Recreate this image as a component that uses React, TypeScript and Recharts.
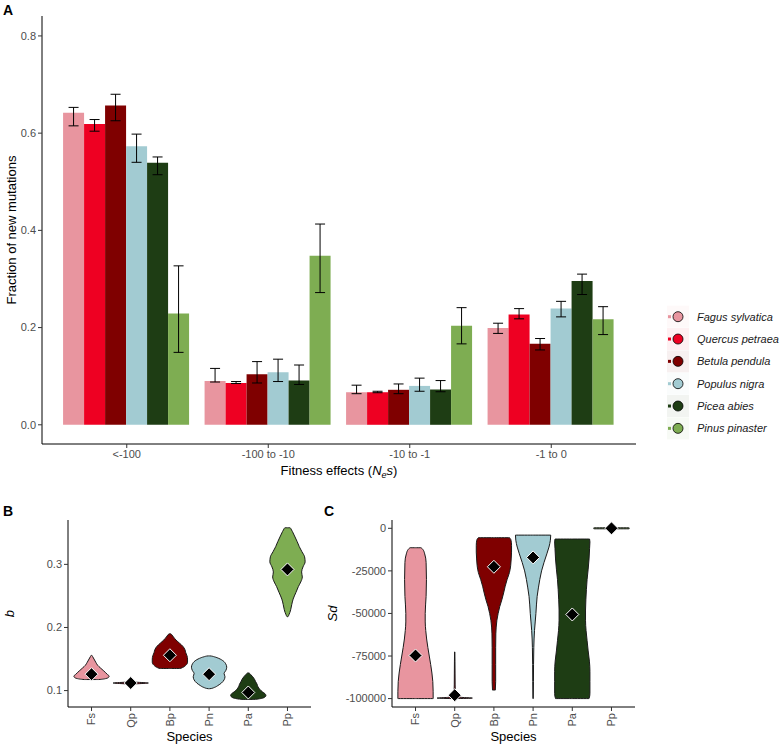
import React from "react";
import { BarChart, Bar, XAxis, YAxis, ErrorBar, ComposedChart, Area, Scatter, Label } from "recharts";

const SPECIES = ["Fagus sylvatica", "Quercus petraea", "Betula pendula", "Populus nigra", "Picea abies", "Pinus pinaster"];
const CODES = ["Fs", "Qp", "Bp", "Pn", "Pa", "Pp"];
const COLORS = ["#E8959F", "#EE0022", "#7F0000", "#A2CBD2", "#1E3D14", "#7EAD52"];
const CATEGORIES = ["<-100", "-100 to -10", "-10 to -1", "-1 to 0"];

// panel A: fraction of new mutations (mean, lower and upper error) per fitness class
const FS_MEAN = [0.642, 0.09, 0.067, 0.199];
const FS_LOW = [0.615, 0.088, 0.064, 0.188];
const FS_HIGH = [0.653, 0.116, 0.0815, 0.209];
const QP_MEAN = [0.619, 0.086, 0.067, 0.227];
const QP_LOW = [0.604, 0.085, 0.066, 0.218];
const QP_HIGH = [0.628, 0.089, 0.069, 0.239];
const BP_MEAN = [0.657, 0.104, 0.072, 0.1665];
const BP_LOW = [0.6255, 0.086, 0.064, 0.154];
const BP_HIGH = [0.68, 0.13, 0.084, 0.1775];
const PN_MEAN = [0.573, 0.108, 0.08, 0.239];
const PN_LOW = [0.54, 0.089, 0.069, 0.222];
const PN_HIGH = [0.598, 0.135, 0.096, 0.254];
const PA_MEAN = [0.539, 0.091, 0.0726, 0.296];
const PA_LOW = [0.5145, 0.083, 0.068, 0.268];
const PA_HIGH = [0.551, 0.123, 0.091, 0.31];
const PP_MEAN = [0.229, 0.348, 0.204, 0.217];
const PP_LOW = [0.149, 0.272, 0.1665, 0.1856];
const PP_HIGH = [0.327, 0.413, 0.241, 0.243];

// panel B: violin profiles of b, [value, relative width]
const FS_B = [[0.1175, 0.4], [0.119, 0.8], [0.121, 0.97], [0.123, 1], [0.1255, 0.9], [0.129, 0.78], [0.132, 0.66], [0.136, 0.5], [0.14, 0.35], [0.145, 0.24], [0.15, 0.14], [0.154, 0.06], [0.156, 0.01]];
const QP_B = [[0.1097, 0.02], [0.1106, 0.25], [0.1114, 0.75], [0.112, 1], [0.1126, 0.75], [0.1134, 0.25], [0.1143, 0.02]];
const BP_B = [[0.135, 0.55], [0.137, 0.75], [0.14, 0.9], [0.145, 1], [0.15, 1], [0.155, 0.97], [0.16, 0.9], [0.165, 0.85], [0.17, 0.74], [0.175, 0.55], [0.18, 0.35], [0.185, 0.2], [0.188, 0.12], [0.19, 0.04]];
const PN_B = [[0.103, 0.05], [0.105, 0.3], [0.108, 0.5], [0.112, 0.7], [0.117, 0.85], [0.122, 0.9], [0.127, 0.85], [0.132, 0.95], [0.137, 1], [0.142, 0.95], [0.147, 0.8], [0.151, 0.55], [0.1535, 0.3], [0.155, 0.05]];
const PA_B = [[0.086, 0.3], [0.088, 0.8], [0.09, 0.95], [0.092, 1], [0.095, 0.95], [0.098, 0.8], [0.102, 0.65], [0.106, 0.55], [0.11, 0.5], [0.114, 0.42], [0.118, 0.35], [0.122, 0.25], [0.125, 0.15], [0.128, 0.03]];
const PP_B = [[0.217, 0.02], [0.22, 0.08], [0.228, 0.18], [0.236, 0.24], [0.245, 0.32], [0.255, 0.47], [0.265, 0.62], [0.272, 0.75], [0.28, 0.84], [0.288, 0.8], [0.296, 0.88], [0.304, 1], [0.312, 0.97], [0.32, 0.82], [0.328, 0.67], [0.336, 0.55], [0.345, 0.4], [0.352, 0.28], [0.356, 0.2], [0.358, 0.15]];
const MEAN_B = [0.126, 0.112, 0.156, 0.126, 0.097, 0.292];

// panel C: violin profiles of Sd, [value, relative width]
const FS_C = [[-100000, 1], [-96000, 1], [-90000, 0.98], [-85000, 0.93], [-80000, 0.86], [-75000, 0.78], [-70000, 0.7], [-65000, 0.63], [-60000, 0.58], [-55000, 0.55], [-50000, 0.55], [-45000, 0.57], [-40000, 0.6], [-30000, 0.62], [-20000, 0.6], [-15000, 0.52], [-12500, 0.42], [-11400, 0.3]];
const QP_C = [[-100000, 0.1], [-99700, 1], [-99300, 0.4], [-98800, 0.12], [-98000, 0.06], [-96000, 0.035], [-92000, 0.025], [-85000, 0.02], [-78000, 0.015], [-72600, 0.008]];
const BP_C = [[-95000, 0.08], [-90000, 0.1], [-80000, 0.1], [-70000, 0.1], [-62000, 0.11], [-58000, 0.13], [-54000, 0.17], [-50000, 0.24], [-46000, 0.33], [-42000, 0.45], [-38000, 0.55], [-34000, 0.64], [-30000, 0.75], [-26000, 0.88], [-22000, 0.95], [-18000, 0.98], [-14000, 1], [-10000, 1], [-7000, 0.97], [-5500, 0.88]];
const PN_C = [[-100000, 0.01], [-90000, 0.02], [-80000, 0.025], [-70000, 0.04], [-60000, 0.08], [-55000, 0.12], [-50000, 0.16], [-45000, 0.19], [-40000, 0.23], [-35000, 0.3], [-30000, 0.38], [-25000, 0.48], [-20000, 0.62], [-15000, 0.78], [-11000, 0.9], [-7000, 0.98], [-4000, 1]];
const PA_C = [[-100000, 0.95], [-97000, 1], [-90000, 1], [-84000, 1], [-78000, 0.97], [-72000, 0.9], [-66000, 0.84], [-60000, 0.78], [-54000, 0.75], [-48000, 0.75], [-42000, 0.77], [-36000, 0.8], [-30000, 0.84], [-24000, 0.9], [-18000, 0.95], [-12000, 0.98], [-8000, 1], [-6300, 0.98]];
const PP_C = [[-300, 1], [300, 1]];
const MEAN_C = [-74700, -98000, -22600, -17100, -50600, 0];

const MEANS = [FS_MEAN, QP_MEAN, BP_MEAN, PN_MEAN, PA_MEAN, PP_MEAN];
const LOWS = [FS_LOW, QP_LOW, BP_LOW, PN_LOW, PA_LOW, PP_LOW];
const HIGHS = [FS_HIGH, QP_HIGH, BP_HIGH, PN_HIGH, PA_HIGH, PP_HIGH];

const barData = CATEGORIES.map((cat, c) => {
  const row: Record<string, any> = { cat };
  CODES.forEach((code, s) => {
    row[code] = MEANS[s][c];
    row[code + "Err"] = [MEANS[s][c] - LOWS[s][c], HIGHS[s][c] - MEANS[s][c]];
  });
  return row;
});

const HALF = 0.45;
function violin(profile: number[][], pos: number) {
  const pts = [[profile[0][0], 0], ...profile, [profile[profile.length - 1][0], 0]];
  return pts.map(([y, w]) => ({ y, v: [pos - w * HALF, pos + w * HALF] }));
}

const TICK = { fontSize: 11, fill: "#4d4d4d" };
const POSITIONS = [1, 2, 3, 4, 5, 6];

const Diamond = (props: any) => {
  const { cx, cy } = props;
  const r = 6.5;
  return (
    <polygon
      points={`${cx},${cy - r} ${cx + r},${cy} ${cx},${cy + r} ${cx - r},${cy}`}
      fill="#000" stroke="#fff" strokeWidth={1}
    />
  );
};

const RotTick = (props: any) => {
  const { x, y, payload } = props;
  return (
    <text x={x} y={y} transform={`rotate(-90 ${x} ${y})`} textAnchor="end" dy="0.35em" fontSize={11} fill="#4d4d4d">
      {CODES[payload.value - 1]}
    </text>
  );
};

function ViolinPanel({ profiles, means, domain, ticks, ylab, width, yWidth, right, labX }: any) {
  return (
    <ComposedChart width={width} height={248} layout="vertical" margin={{ top: 20, right, bottom: 0, left: 0 }}>
      <XAxis type="number" domain={[0.4, 6.6]} ticks={POSITIONS} allowDataOverflow height={41}
        tick={<RotTick />} tickSize={4} stroke="#000" tickLine={{ stroke: "#333" }}>
        <Label content={({ viewBox }: any) => (
          <text x={viewBox.x + viewBox.width / 2} y={viewBox.y + 34} textAnchor="middle" fontSize={13} fill="#000">Species</text>
        )} />
      </XAxis>
      <YAxis type="number" dataKey="y" domain={domain} ticks={ticks} allowDataOverflow reversed width={yWidth}
        tick={TICK} tickSize={4} stroke="#000" tickLine={{ stroke: "#333" }}>
        <Label content={({ viewBox }: any) => {
          const cy = viewBox.y + viewBox.height / 2;
          return (
            <text x={labX} y={cy} transform={`rotate(-90 ${labX} ${cy})`} textAnchor="middle" fontSize={13} fontStyle="italic" fill="#000">{ylab}</text>
          );
        }} />
      </YAxis>
      {profiles.map((p: number[][], i: number) => (
        <Area key={CODES[i]} data={violin(p, i + 1)} dataKey="v" type="monotone" fill={COLORS[i]} fillOpacity={1}
          stroke="#1a1a1a" strokeWidth={1} connectNulls dot={false} activeDot={false} isAnimationActive={false} />
      ))}
      <Scatter data={means.map((m: number, i: number) => ({ pos: i + 1, y: m }))} dataKey="pos" shape={Diamond} isAnimationActive={false} />
    </ComposedChart>
  );
}

export default function App() {
  return (
    <div style={{ position: "absolute", left: 0, top: 0, width: 783, height: 748, background: "#fff", fontFamily: "'Liberation Sans', Arial, sans-serif" }}>
      <div style={{ position: "absolute", left: 0, top: 0 }}>
        <BarChart width={783} height={490} data={barData} margin={{ top: 16, right: 147, bottom: 0, left: 0 }} barCategoryGap="5%" barGap={0}>
          <XAxis dataKey="cat" padding={{ left: 14, right: 14 }} height={46} tick={TICK} tickSize={4} stroke="#000" tickLine={{ stroke: "#333" }}>
            <Label content={({ viewBox }: any) => (
              <text x={viewBox.x + viewBox.width / 2} y={viewBox.y + 30.5} textAnchor="middle" fontSize={13} fill="#000">
                Fitness effects (<tspan fontStyle="italic">N</tspan><tspan fontStyle="italic" fontSize={9} dy={3}>e</tspan><tspan fontStyle="italic" dy={-3}>s</tspan>)
              </text>
            )} />
          </XAxis>
          <YAxis type="number" domain={[-0.0395, 0.841]} ticks={[0, 0.2, 0.4, 0.6, 0.8]} allowDataOverflow width={42}
            tickFormatter={(v: number) => v.toFixed(1)} tick={TICK} tickSize={4} stroke="#000" tickLine={{ stroke: "#333" }}>
            <Label content={({ viewBox }: any) => {
              const cy = viewBox.y + viewBox.height / 2;
              return (
                <text x={16} y={cy} transform={`rotate(-90 16 ${cy})`} textAnchor="middle" fontSize={13} fill="#000">Fraction of new mutations</text>
              );
            }} />
          </YAxis>
          {CODES.map((code, i) => (
            <Bar key={code} dataKey={code} fill={COLORS[i]} isAnimationActive={false}>
              <ErrorBar dataKey={code + "Err"} width={5} stroke="#000" strokeWidth={1} />
            </Bar>
          ))}
        </BarChart>
      </div>
      <div style={{ position: "absolute", left: 0, top: 500 }}>
        <ViolinPanel profiles={[FS_B, QP_B, BP_B, PN_B, PA_B, PP_B]} means={MEAN_B} domain={[0.074, 0.3703]}
          ticks={[0.1, 0.2, 0.3]} ylab="b" width={390} yWidth={68} right={79} labX={13.5} />
      </div>
      <div style={{ position: "absolute", left: 318, top: 500 }}>
        <ViolinPanel profiles={[FS_C, QP_C, BP_C, PN_C, PA_C, PP_C]} means={MEAN_C} domain={[-104940, 4880]}
          ticks={[-100000, -75000, -50000, -25000, 0]} ylab="Sd" width={465} yWidth={74} right={148} labX={19} />
      </div>
      <svg width={783} height={748} style={{ position: "absolute", left: 0, top: 0, pointerEvents: "none" }}>
        <text x={3} y={15} fontSize={14} fontWeight="bold">A</text>
        <text x={3} y={516} fontSize={14} fontWeight="bold">B</text>
        <text x={324} y={516} fontSize={14} fontWeight="bold">C</text>
        {SPECIES.map((name, i) => {
          const cy = 316.7 + i * 22.33;
          return (
            <g key={name}>
              <rect x={667} y={cy - 11} width={22} height={22} fill={COLORS[i]} fillOpacity={0.06} />
              <rect x={668} y={cy - 1.5} width={3} height={3} fill={COLORS[i]} />
              <circle cx={678} cy={cy} r={5} fill={COLORS[i]} stroke="#000" strokeWidth={0.8} />
              <text x={697} y={cy + 4} fontSize={11} fontStyle="italic" fill="#1a1a1a">{name}</text>
            </g>
          );
        })}
      </svg>
    </div>
  );
}
